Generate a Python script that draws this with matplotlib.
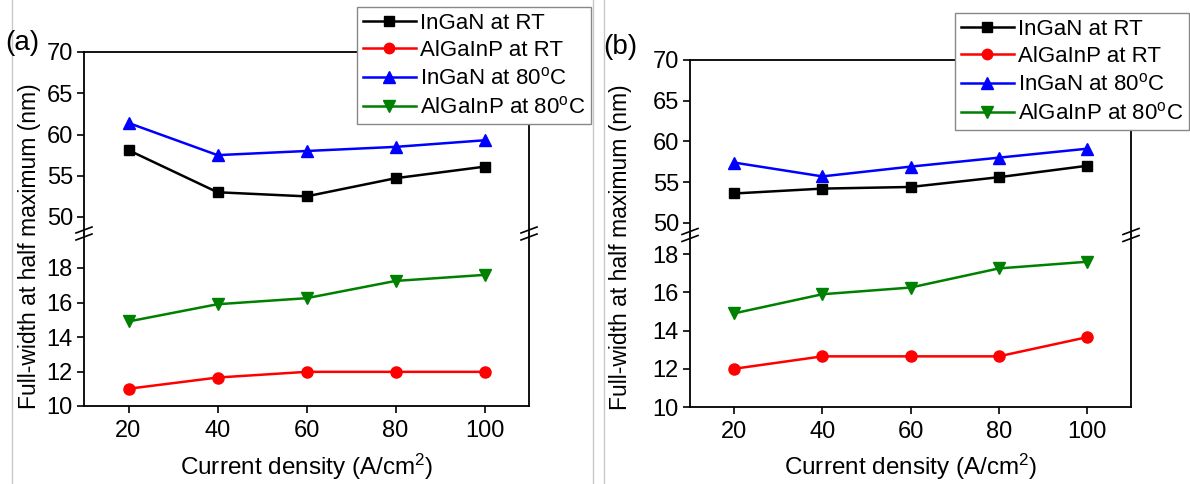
import numpy as np
import matplotlib
matplotlib.use("Agg")
import matplotlib.pyplot as plt
from matplotlib.lines import Line2D

plt.rcParams['font.family'] = ['Liberation Sans', 'DejaVu Sans']
plt.rcParams['mathtext.fontset'] = 'custom'
plt.rcParams['mathtext.rm'] = 'Liberation Sans'
plt.rcParams['mathtext.it'] = 'Liberation Sans'

# data
current = [20, 40, 60, 80, 100]

a_ingan_rt = [58.1, 53.0, 52.5, 54.7, 56.1]
a_algainp_rt = [11.0, 11.65, 11.98, 11.98, 11.98]
a_ingan_80 = [61.4, 57.5, 58.0, 58.5, 59.3]
a_algainp_80 = [14.9, 15.9, 16.25, 17.25, 17.6]

b_ingan_rt = [53.6, 54.2, 54.4, 55.6, 57.0]
b_algainp_rt = [12.0, 12.65, 12.65, 12.65, 13.65]
b_ingan_80 = [57.4, 55.7, 56.9, 58.0, 59.1]
b_algainp_80 = [14.9, 15.9, 16.25, 17.25, 17.6]

labels = ['InGaN at RT', 'AlGaInP at RT',
          'InGaN at 80$^\\mathrm{o}$C', 'AlGaInP at 80$^\\mathrm{o}$C']
colors = ['black', 'red', 'blue', 'green']
markers = ['s', 'o', '^', 'v']
msizes = [7.5, 8, 8.5, 8.5]

W, H = 1190, 484
fig = plt.figure(figsize=(W / 100, H / 100), dpi=100)


def px(x, y):
    return x / W, 1 - y / H


def make_panel(left, right, top, brk, bottom, ylim_top, ylim_bot, data, tag,
               tag_xy, leg_xy, ylab_xy):
    x0, y_top = px(left, top)
    x1, y_brk = px(right, brk)
    _, y_bot = px(left, bottom)
    ax_t = fig.add_axes([x0, y_brk, x1 - x0, y_top - y_brk])
    ax_b = fig.add_axes([x0, y_bot, x1 - x0, y_brk - y_bot])

    for ax in (ax_t, ax_b):
        ax.set_xlim(10, 110)
        for s in ax.spines.values():
            s.set_linewidth(1.3)
        ax.tick_params(axis='both', direction='out', length=5, width=1.2,
                       labelsize=17, pad=3)
        ax.tick_params(top=False, right=False)

    ax_t.spines['bottom'].set_visible(False)
    ax_b.spines['top'].set_visible(False)
    ax_t.set_xticks([])
    ax_t.set_ylim(*ylim_top)
    ax_t.set_yticks([50, 55, 60, 65, 70])
    ax_b.set_ylim(*ylim_bot)
    ax_b.set_yticks([10, 12, 14, 16, 18])
    ax_b.set_xticks(current)
    ax_b.tick_params(axis='x', pad=5)

    for i, ys in enumerate(data):
        ax = ax_t if i in (0, 2) else ax_b
        ax.plot(current, ys, color=colors[i], marker=markers[i], ms=msizes[i],
                lw=1.8, clip_on=False, zorder=3)

    # break marks on both spines
    for xs in (left, right):
        for off in (-3.5, 3.5):
            xa, ya = px(xs - 8, brk + off + 3)
            xb, yb = px(xs + 8, brk + off - 3)
            fig.add_artist(Line2D([xa, xb], [ya, yb], color='black', lw=1.2))

    cx, cy = px((left + right) / 2, 467)
    fig.text(cx, cy, 'Current density (A/cm$^2$)', fontsize=17.5,
             ha='center', va='center')
    lx, ly = px(*ylab_xy)
    fig.text(lx, ly, 'Full-width at half maximum (nm)', rotation=90,
             fontsize=16.5, ha='center', va='center')
    tx, ty = px(*tag_xy)
    fig.text(tx, ty, tag, fontsize=20, ha='left', va='center')

    handles = [Line2D([], [], color=colors[i], marker=markers[i], ms=msizes[i] - 0.5,
                      lw=1.8) for i in range(4)]
    lgx, lgy = px(*leg_xy)
    leg = fig.legend(handles, labels, loc='upper right', bbox_to_anchor=(lgx, lgy),
                     fontsize=16, frameon=True, fancybox=False, framealpha=1,
                     edgecolor='#888888', handlelength=2.4, handletextpad=0.2,
                     labelspacing=0.3, borderpad=0.25, borderaxespad=0)
    leg.get_frame().set_linewidth(1.0)


make_panel(84, 529, 52, 233.5, 406, (48, 70), (10, 20),
           [a_ingan_rt, a_algainp_rt, a_ingan_80, a_algainp_80],
           '(a)', (5, 43), (591, 7), (30, 246))
make_panel(690, 1131, 60, 235, 407, (48.5, 70), (10, 19),
           [b_ingan_rt, b_algainp_rt, b_ingan_80, b_algainp_80],
           '(b)', (603, 47), (1189, 13), (620, 247))

# thin grey frame lines from the original image layout
for xs in (12, 593, 604):
    xa, _ = px(xs, 0)
    fig.add_artist(Line2D([xa, xa], [0, 1], color='#c8c8c8', lw=1.0))

plt.savefig('out.png', dpi=100)
